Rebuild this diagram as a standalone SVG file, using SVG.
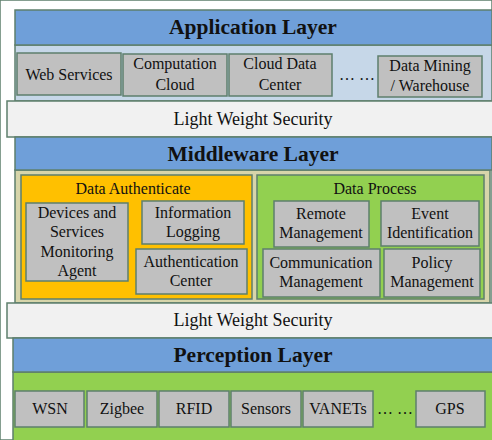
<svg xmlns="http://www.w3.org/2000/svg" width="492" height="440" viewBox="0 0 492 440">
<style>
rect{stroke:#5e7f6c;stroke-width:1.5}
.blue{fill:#6f9fd9}
.lb{fill:#c6d7e8}
.sec{fill:#f1f1f1}
.tan{fill:#d7d5aa}
.org{fill:#ffc000}
.grn{fill:#92d050}
.box{fill:#c0c0c0}
text{font-family:"Liberation Serif","Times New Roman",serif;fill:#111;text-anchor:middle}
.t{font-size:21.5px;font-weight:bold}
.s{font-size:18px}
.b{font-size:16px}
</style>
<rect width="492" height="440" fill="#ffffff" stroke="none"/>
<g id="application-layer">
<rect class="lb" x="15" y="45" width="477" height="56"/>
<rect class="blue" x="15" y="10" width="477" height="35"/>
<text class="t" x="253" y="34">Application Layer</text>
</g>
<g id="web-services"><rect class="box" x="17" y="53" width="104" height="42"/><text class="b" x="69" y="80">Web Services</text></g>
<g id="computation-cloud"><rect class="box" x="123" y="54" width="104" height="42"/><text class="b" x="175" y="69">Computation</text><text class="b" x="175" y="90">Cloud</text></g>
<g id="cloud-data-center"><rect class="box" x="229" y="54" width="103" height="42"/><text class="b" x="280" y="69">Cloud Data</text><text class="b" x="280" y="90">Center</text></g>
<g id="app-dots"><text class="b" x="357" y="80">… …</text></g>
<g id="data-mining"><rect class="box" x="378" y="56" width="104" height="41"/><text class="b" x="430" y="71">Data Mining</text><text class="b" x="430" y="91">/ Warehouse</text></g>
<g id="security-1"><rect class="sec" x="7" y="101" width="486" height="36"/><text class="s" x="253" y="125">Light Weight Security</text></g>
<g id="middleware-layer">
<rect class="tan" x="15" y="170" width="475" height="133"/>
<rect class="blue" x="15" y="137" width="477" height="33"/>
<text class="t" x="253" y="161">Middleware Layer</text>
</g>
<g id="data-authenticate"><rect class="org" x="21" y="175" width="231" height="124"/><text class="b" x="133" y="194">Data Authenticate</text></g>
<g id="data-process"><rect class="grn" x="257" y="175" width="227" height="124"/><text class="b" x="375" y="194">Data Process</text></g>
<g id="devices-agent"><rect class="box" x="26" y="203" width="102" height="78"/><text class="b" x="77" y="218">Devices and</text><text class="b" x="77" y="237">Services</text><text class="b" x="77" y="257">Monitoring</text><text class="b" x="77" y="276">Agent</text></g>
<g id="information-logging"><rect class="box" x="142" y="201" width="102" height="43"/><text class="b" x="193" y="218">Information</text><text class="b" x="193" y="237">Logging</text></g>
<g id="authentication-center"><rect class="box" x="136" y="249" width="111" height="45"/><text class="b" x="191" y="267">Authentication</text><text class="b" x="191" y="286">Center</text></g>
<g id="remote-management"><rect class="box" x="274" y="201" width="95" height="46"/><text class="b" x="321" y="219">Remote</text><text class="b" x="321" y="238">Management</text></g>
<g id="event-identification"><rect class="box" x="381" y="201" width="98" height="45"/><text class="b" x="430" y="219">Event</text><text class="b" x="430" y="238">Identification</text></g>
<g id="communication-management"><rect class="box" x="263" y="249" width="117" height="48"/><text class="b" x="321" y="268">Communication</text><text class="b" x="321" y="287">Management</text></g>
<g id="policy-management"><rect class="box" x="384" y="249" width="96" height="48"/><text class="b" x="432" y="268">Policy</text><text class="b" x="432" y="287">Management</text></g>
<g id="security-2"><rect class="sec" x="7" y="303" width="486" height="35"/><text class="s" x="253" y="326">Light Weight Security</text></g>
<g id="perception-layer">
<rect class="grn" x="13" y="372" width="480" height="70"/>
<rect class="blue" x="13" y="338" width="480" height="34"/>
<text class="t" x="253" y="362">Perception Layer</text>
</g>
<g id="wsn"><rect class="box" x="15" y="391" width="69" height="36"/><text class="b" x="50" y="414">WSN</text></g>
<g id="zigbee"><rect class="box" x="87" y="391" width="70" height="36"/><text class="b" x="122" y="414">Zigbee</text></g>
<g id="rfid"><rect class="box" x="159" y="391" width="70" height="36"/><text class="b" x="194" y="414">RFID</text></g>
<g id="sensors"><rect class="box" x="231" y="391" width="70" height="36"/><text class="b" x="266" y="414">Sensors</text></g>
<g id="vanets"><rect class="box" x="303" y="391" width="70" height="36"/><text class="b" x="338" y="414">VANETs</text></g>
<g id="perc-dots"><text class="b" x="395" y="414">… …</text></g>
<g id="gps"><rect class="box" x="416" y="391" width="69" height="36"/><text class="b" x="450" y="414">GPS</text></g>
<g id="connectors"></g>
</svg>
